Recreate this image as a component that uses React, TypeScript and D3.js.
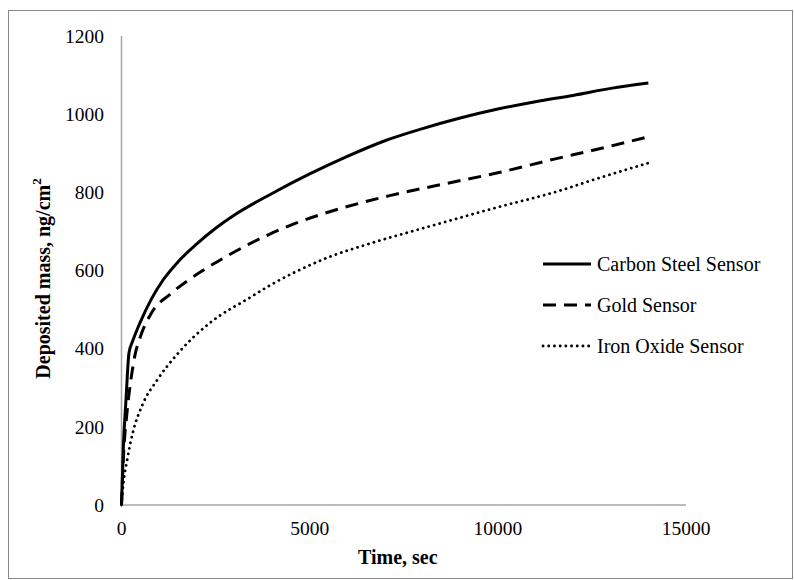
import React from "react";
import * as d3 from "d3";

const carbonTime = [0, 50, 120, 200, 300, 500, 800, 1100, 1500, 2000, 2500, 3000, 4000, 5000, 6000, 7000, 8000, 9000, 10000, 11000, 12000, 13000, 14000];
const carbonMass = [0, 150, 270, 390, 420, 468, 528, 575, 622, 668, 708, 742, 797, 847, 892, 932, 963, 990, 1013, 1032, 1048, 1066, 1080];

const goldTime = [0, 50, 150, 250, 350, 500, 800, 1300, 1800, 2500, 3400, 4600, 5800, 7100, 8500, 10000, 11500, 12500, 14000];
const goldMass = [0, 120, 240, 320, 380, 430, 492, 540, 577, 620, 668, 720, 758, 791, 820, 850, 885, 907, 942];

const ironTime = [0, 50, 150, 300, 550, 950, 1500, 2350, 3400, 4000, 4700, 5500, 6500, 8300, 10000, 11500, 12700, 14000];
const ironMass = [0, 55, 115, 185, 255, 320, 388, 466, 530, 565, 600, 634, 666, 716, 762, 800, 837, 875];

const xTicks = [0, 5000, 10000, 15000];
const yTicks = [0, 200, 400, 600, 800, 1000, 1200];

const seriesNames = ["Carbon Steel Sensor", "Gold Sensor", "Iron Oxide Sensor"];

const W = 794;
const H = 580;
const FONT = "'Liberation Serif', 'Times New Roman', serif";

export default function App() {
  const x = d3.scaleLinear().domain([0, 15000]).range([121.5, 686]);
  const y = d3.scaleLinear().domain([0, 1200]).range([505, 36]);
  const line = d3
    .line<[number, number]>()
    .x((d) => x(d[0]))
    .y((d) => y(d[1]))
    .curve(d3.curveMonotoneX);

  const series = [
    { name: seriesNames[0], t: carbonTime, v: carbonMass, dash: null as string | null, width: 3, cap: "butt" },
    { name: seriesNames[1], t: goldTime, v: goldMass, dash: "13 8", width: 3, cap: "butt" },
    { name: seriesNames[2], t: ironTime, v: ironMass, dash: "0.1 5.6", width: 2.8, cap: "round" },
  ];

  const legendY = [264, 305, 346];

  return (
    <svg
      width={W}
      height={H}
      style={{ position: "absolute", left: 0, top: 0, background: "#fff" }}
      fontFamily={FONT}
    >
      <rect x={8.5} y={10.5} width={784} height={568} fill="#fff" stroke="#888" strokeWidth={1} />
      <line x1={x(0)} x2={x(0)} y1={y(1200)} y2={y(0)} stroke="#a6a6a6" strokeWidth={1.5} />
      <line x1={x(0)} x2={x(15000)} y1={y(0)} y2={y(0)} stroke="#a6a6a6" strokeWidth={1.5} />
      {yTicks.map((t) => (
        <text key={"y" + t} x={104} y={y(t)} dy="0.35em" textAnchor="end" fontSize={19.5} fill="#000">
          {t}
        </text>
      ))}
      {xTicks.map((t) => (
        <text key={"x" + t} x={x(t)} y={528} dy="0.35em" textAnchor="middle" fontSize={19.5} fill="#000">
          {t}
        </text>
      ))}
      <text x={x(7500) - 6} y={557} dy="0.35em" textAnchor="middle" fontSize={20} fontWeight="bold">
        Time, sec
      </text>
      <text
        transform={`translate(43, ${(y(0) + y(1200)) / 2 + 8}) rotate(-90)`}
        textAnchor="middle"
        dy="0.35em"
        fontSize={20}
        fontWeight="bold"
      >
        Deposited mass, ng/cm
        <tspan fontSize={13} dy="-0.7em">2</tspan>
      </text>
      {series.map((s) => (
        <path
          key={s.name}
          d={line(s.t.map((t, i) => [t, s.v[i]] as [number, number])) || ""}
          fill="none"
          stroke="#000"
          strokeWidth={s.width}
          strokeDasharray={s.dash || undefined}
          strokeLinecap={s.cap as any}
          strokeLinejoin="round"
        />
      ))}
      {series.map((s, i) => (
        <g key={"lg" + i}>
          <line
            x1={543}
            x2={591}
            y1={legendY[i]}
            y2={legendY[i]}
            stroke="#000"
            strokeWidth={s.width}
            strokeDasharray={s.dash || undefined}
            strokeLinecap={s.cap as any}
          />
          <text x={597} y={legendY[i]} dy="0.35em" fontSize={20}>
            {s.name}
          </text>
        </g>
      ))}
    </svg>
  );
}
